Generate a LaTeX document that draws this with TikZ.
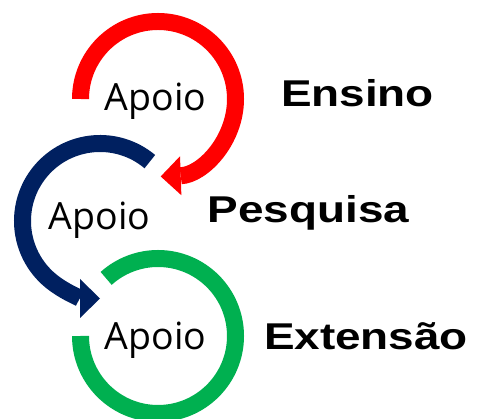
\documentclass[tikz,border=0pt]{standalone}
\usepackage{fontspec}
\usetikzlibrary{arrows.meta}
\newfontfamily\apoiofont{Open Sans}
\newfontfamily\areafont{Liberation Sans}
\definecolor{ensred}{RGB}{255,0,0}
\definecolor{pesblue}{RGB}{0,32,96}
\definecolor{extgreen}{RGB}{0,176,80}
\begin{document}
\begin{tikzpicture}[x=1pt, y=1pt,
  apoio/.style={anchor=base, inner sep=0pt, font=\apoiofont\fontsize{37.5}{40}\selectfont},
  area/.style={anchor=base, inner sep=0pt, xscale=1.23, font=\areafont\bfseries\fontsize{37.3}{40}\selectfont},
  ring/.style={line width=17pt},
  arrowend/.style={-{Triangle[width=39pt, length=20pt, line width=0pt]}}]
\useasboundingbox (0,0) rectangle (478,419);
\coordinate (cen0) at (158,320);
\coordinate (cen1) at (100,198);
\coordinate (cen2) at (158,83);
\node[apoio] (apo0) at (155.5,308){Apoio};
\node[apoio] (apo1) at (99.5,189){Apoio};
\node[apoio] (apo2) at (155.5,69){Apoio};
\node[area] (ens) at (357.5,312){Ensino};
\node[area] (pes) at (308.5,196){Pesquisa};
\node[area] (ext) at (366,69){Extensão};
\draw[ring, ensred, arrowend] ([shift={(180:77.5pt)}]cen0) arc[start angle=180, end angle=-88, radius=77.5pt];
\draw[ring, pesblue, arrowend] ([shift={(50:77.5pt)}]cen1) arc[start angle=50, end angle=270, radius=77.5pt];
\draw[ring, extgreen] ([shift={(180:77.5pt)}]cen2) arc[start angle=180, end angle=492, radius=77.5pt];

\end{tikzpicture}
\end{document}
